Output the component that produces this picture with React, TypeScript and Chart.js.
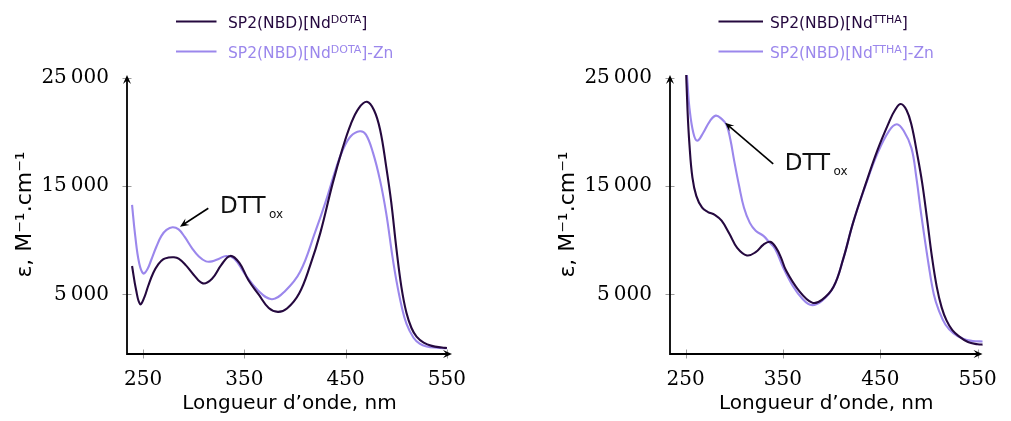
import React, { useEffect, useRef } from "react";
import { Chart, registerables } from "chart.js";

Chart.register(...registerables);

// ---------------- data ----------------
const dotaX = [239, 243, 247, 251, 255, 260, 265, 270, 275, 280, 285, 292, 300, 309, 318, 327, 336, 345, 354, 364, 374, 383, 392, 404, 415, 425, 437, 447, 455, 463, 471, 478, 484, 490, 495, 500, 505, 510, 515, 520, 527, 535, 545, 550];
const dotaY = [7620, 5400, 4100, 4700, 5800, 7000, 7800, 8250, 8400, 8430, 8300, 7700, 6800, 6020, 6450, 7700, 8550, 7900, 6300, 5000, 3750, 3390, 3700, 5090, 7700, 10700, 15200, 18500, 20700, 22200, 22780, 22000, 20200, 16800, 13500, 9300, 5700, 3300, 1900, 1100, 550, 250, 100, 50];

const dotaZnX = [239, 242, 246, 250, 254, 258, 263, 268, 273, 279, 285, 291, 298, 305, 312, 318, 325, 332, 340, 350, 363, 377, 390, 405, 420, 430, 440, 447, 455, 464, 470, 477, 484, 490, 496, 500, 505, 510, 517, 523, 530, 540, 550];
const dotaZnY = [13270, 10500, 7900, 6940, 7300, 8200, 9400, 10400, 10950, 11200, 11000, 10300, 9300, 8500, 8050, 8050, 8300, 8550, 8300, 6950, 5400, 4560, 5300, 7090, 10800, 13500, 16500, 18300, 19600, 20060, 19750, 18060, 15500, 12500, 8600, 6320, 4000, 2300, 1000, 460, 200, 80, 30];

const tthaX = [250, 252, 254, 257, 261, 267, 273, 280, 287, 295, 303, 313, 322, 330, 337, 343, 348, 353, 366, 380, 390, 402, 412, 422, 435, 447, 459, 465, 471, 477, 482, 488, 493, 498, 503, 508, 513, 518, 524, 531, 540, 550, 556];
const tthaY = [27000, 22000, 18800, 15800, 14100, 13000, 12600, 12350, 11800, 10600, 9300, 8600, 8900, 9600, 9850, 9300, 8400, 7250, 5400, 4240, 4500, 5700, 8300, 11600, 15200, 18300, 20900, 22000, 22570, 22000, 20650, 17900, 15300, 12000, 8500, 5700, 3800, 2600, 1700, 1120, 600, 400, 360];

const tthaZnX = [250, 252, 254, 258, 262, 268, 275, 281, 287, 292, 296, 300, 305, 310, 316, 322, 330, 336, 342, 350, 360, 370, 379, 390, 402, 412, 422, 435, 447, 459, 467, 474, 482, 487, 492, 500, 505, 510, 517, 525, 535, 545, 556];
const tthaZnY = [27000, 24500, 22200, 19900, 19180, 19900, 21000, 21500, 21200, 20650, 19300, 17300, 15000, 13000, 11600, 10880, 10400, 9810, 9200, 7530, 5800, 4600, 4020, 4400, 5700, 8300, 11600, 15100, 18000, 20100, 20700, 20100, 18500, 15800, 12400, 7530, 5000, 3560, 2200, 1430, 900, 700, 650];

const xTicks = [250, 350, 450, 550];
const yTicks = [5000, 15000, 25000];
const xRange = [234, 555];
const yRange = [-500, 25250];

const xTitle = "Longueur d\u2019onde, nm";
const yTitle = "\u03b5, M\u207b\u00b9.cm\u207b\u00b9";

const leftArrow = { tip: [286.3, 11250], tail: [314.3, 12950], text: [325.9, 12490] };
const rightArrow = { tip: [290.6, 20850], tail: [340, 17040], text: [351.8, 16480] };

// ---------------- styles ----------------
const DARK = "#25093f";
const LIGHT = "#9b87ec";
const SANS = "'DejaVu Sans', sans-serif";
const SERIF = "'DejaVu Serif', serif";

type Part = { t: string; sup?: boolean; sub?: boolean };

function fmt(v: number) {
  const s = String(v);
  return s.length > 3 ? s.slice(0, -3) + "\u2009" + s.slice(-3) : s;
}

function arrowHead(ctx: CanvasRenderingContext2D, x: number, y: number, angle: number, len: number, half: number) {
  ctx.save();
  ctx.translate(x, y);
  ctx.rotate(angle);
  ctx.beginPath();
  ctx.moveTo(0, 0);
  ctx.lineTo(-len, -half);
  ctx.lineTo(-len * 0.62, 0);
  ctx.lineTo(-len, half);
  ctx.closePath();
  ctx.fill();
  ctx.restore();
}

function richText(ctx: CanvasRenderingContext2D, x: number, y: number, parts: Part[], size: number, small: number, color: string) {
  let cx = x;
  ctx.fillStyle = color;
  ctx.textAlign = "left";
  ctx.textBaseline = "alphabetic";
  for (const p of parts) {
    const s = p.sup || p.sub ? small : size;
    ctx.font = `${s}px ${SANS}`;
    const dy = p.sup ? -size * 0.34 : p.sub ? size * 0.22 : 0;
    ctx.fillText(p.t, cx, y + dy);
    cx += ctx.measureText(p.t).width;
  }
}

type Panel = {
  darkX: number[]; darkY: number[]; lightX: number[]; lightY: number[];
  tag: string; width: number; left: number;
  legLine: [number, number]; legText: number;
  arrow: { tip: number[]; tail: number[]; text: number[] };
};

function makeChart(canvas: HTMLCanvasElement, p: Panel) {
  const decor = {
    id: "decor",
    afterDatasetsDraw(chart: any) {
      const ctx: CanvasRenderingContext2D = chart.ctx;
      const ca = chart.chartArea;
      const xs = chart.scales.x;
      const ys = chart.scales.y;
      ctx.save();
      // tick marks crossing the axes
      ctx.strokeStyle = "#9c9c9c";
      ctx.lineWidth = 1;
      ctx.beginPath();
      for (const v of xTicks) {
        const px = Math.round(xs.getPixelForValue(v)) + 0.5;
        ctx.moveTo(px, ca.bottom - 4.5);
        ctx.lineTo(px, ca.bottom + 4.5);
      }
      for (const v of yTicks) {
        const py = Math.round(ys.getPixelForValue(v)) + 0.5;
        ctx.moveTo(ca.left - 4.5, py);
        ctx.lineTo(ca.left + 4.5, py);
      }
      ctx.stroke();
      // axes with arrows
      ctx.strokeStyle = "#000";
      ctx.fillStyle = "#000";
      ctx.lineWidth = 1.8;
      ctx.beginPath();
      ctx.moveTo(ca.left, ca.top + 4);
      ctx.lineTo(ca.left, ca.bottom);
      ctx.lineTo(ca.right - 4, ca.bottom);
      ctx.stroke();
      arrowHead(ctx, ca.left, ca.top, -Math.PI / 2, 9, 4);
      arrowHead(ctx, ca.right, ca.bottom, 0, 9, 4);

      // legend
      const rows: { parts: Part[]; color: string; y: number }[] = [
        { parts: [{ t: "SP2(NBD)[Nd" }, { t: p.tag, sup: true }, { t: "]" }], color: DARK, y: 21.5 },
        { parts: [{ t: "SP2(NBD)[Nd" }, { t: p.tag, sup: true }, { t: "]-Zn" }], color: LIGHT, y: 51.5 },
      ];
      for (const r of rows) {
        ctx.strokeStyle = r.color;
        ctx.lineWidth = 2;
        ctx.beginPath();
        ctx.moveTo(p.legLine[0], r.y);
        ctx.lineTo(p.legLine[1], r.y);
        ctx.stroke();
        richText(ctx, p.legText, r.y + 6.8, r.parts, 15.5, 11, r.color);
      }

      // annotation
      const a = p.arrow;
      const tx = xs.getPixelForValue(a.tip[0]);
      const ty = ys.getPixelForValue(a.tip[1]);
      const fx = xs.getPixelForValue(a.tail[0]);
      const fy = ys.getPixelForValue(a.tail[1]);
      const ang = Math.atan2(ty - fy, tx - fx);
      ctx.strokeStyle = "#000";
      ctx.fillStyle = "#000";
      ctx.lineWidth = 1.6;
      ctx.beginPath();
      ctx.moveTo(fx, fy);
      ctx.lineTo(tx - Math.cos(ang) * 4, ty - Math.sin(ang) * 4);
      ctx.stroke();
      arrowHead(ctx, tx, ty, ang, 9, 3.8);
      const lx = xs.getPixelForValue(a.text[0]);
      const ly = ys.getPixelForValue(a.text[1]);
      ctx.font = `23px ${SANS}`;
      ctx.textAlign = "left";
      ctx.textBaseline = "alphabetic";
      ctx.fillStyle = "#111";
      ctx.fillText("DTT", lx, ly);
      const w = ctx.measureText("DTT").width;
      ctx.font = `12px ${SANS}`;
      ctx.fillText("ox", lx + w + 3.5, ly + 5);
      ctx.restore();
    },
  };

  const ds = (xs: number[], ys: number[], color: string, label: string) => ({
    label,
    data: xs.map((x, i) => ({ x, y: ys[i] })),
    borderColor: color,
    backgroundColor: color,
    borderWidth: 2.1,
    pointRadius: 0,
    fill: false,
    tension: 0.4,
    cubicInterpolationMode: "default" as const,
  });

  return new Chart(canvas, {
    type: "line",
    data: {
      datasets: [
        ds(p.darkX, p.darkY, DARK, `SP2(NBD)[Nd${p.tag}]`),
        ds(p.lightX, p.lightY, LIGHT, `SP2(NBD)[Nd${p.tag}]-Zn`),
      ],
    },
    options: {
      responsive: false,
      maintainAspectRatio: false,
      animation: false,
      events: [],
      layout: { padding: { top: 75, left: 0, bottom: 0, right: p.width - 452 } },
      plugins: { legend: { display: false }, tooltip: { enabled: false } },
      scales: {
        x: {
          type: "linear",
          min: xRange[0],
          max: xRange[1],
          afterBuildTicks: (s: any) => { s.ticks = xTicks.map((v) => ({ value: v })); },
          afterFit: (s: any) => { s.height = 67; },
          grid: { display: false, drawTicks: false, tickLength: 0 },
          border: { display: false },
          ticks: { color: "#000", padding: 14, maxRotation: 0, autoSkip: false, font: { family: SERIF, size: 20 }, callback: (v: any) => fmt(Number(v)) },
          title: { display: true, text: xTitle, color: "#000", font: { family: SANS, size: 20 }, padding: { top: 0, bottom: 5 } },
        },
        y: {
          type: "linear",
          min: yRange[0],
          max: yRange[1],
          afterBuildTicks: (s: any) => { s.ticks = yTicks.map((v) => ({ value: v })); },
          afterFit: (s: any) => { s.width = 127; },
          grid: { display: false, drawTicks: false, tickLength: 0 },
          border: { display: false },
          ticks: { color: "#000", padding: 18, autoSkip: false, font: { family: SERIF, size: 20 }, callback: (v: any) => fmt(Number(v)) },
          title: { display: true, text: yTitle, color: "#000", font: { family: SANS, size: 22 }, padding: { top: 12, bottom: 0 } },
        },
      },
    } as any,
    plugins: [decor],
  });
}

const panels: Panel[] = [
  {
    darkX: dotaX, darkY: dotaY, lightX: dotaZnX, lightY: dotaZnY,
    tag: "DOTA", width: 505, left: 0,
    legLine: [176, 216.5], legText: 228,
    arrow: leftArrow,
  },
  {
    darkX: tthaX, darkY: tthaY, lightX: tthaZnX, lightY: tthaZnY,
    tag: "TTHA", width: 468, left: 543,
    legLine: [175.5, 220], legText: 227,
    arrow: rightArrow,
  },
];

function PanelChart({ p }: { p: Panel }) {
  const ref = useRef<HTMLCanvasElement | null>(null);
  useEffect(() => {
    if (!ref.current) return;
    const c = makeChart(ref.current, p);
    return () => c.destroy();
  }, [p]);
  return (
    <canvas
      ref={ref}
      width={p.width}
      height={421}
      style={{ position: "absolute", left: p.left, top: 0, width: p.width, height: 421 }}
    />
  );
}

export default function App() {
  return (
    <div style={{ position: "absolute", left: 0, top: 0, width: 1011, height: 421, background: "#fff", overflow: "hidden" }}>
      {panels.map((p, i) => (
        <PanelChart key={i} p={p} />
      ))}
    </div>
  );
}
